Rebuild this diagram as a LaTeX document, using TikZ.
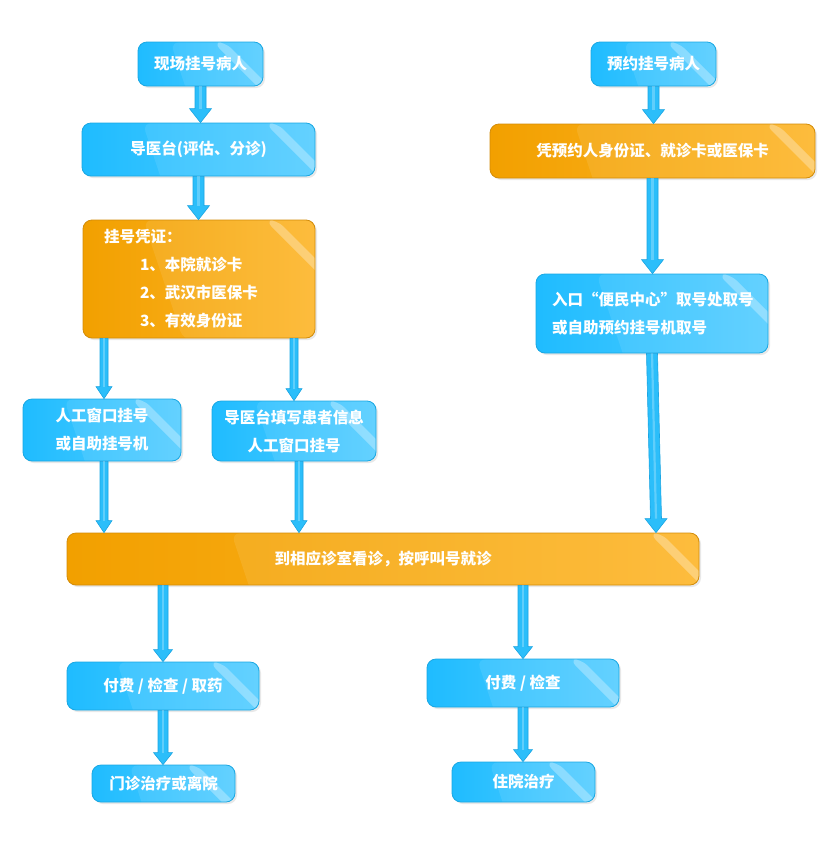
\documentclass[tikz,border=0pt]{standalone}
\usepackage{fontspec}
\setmainfont{Noto Sans CJK SC}
\usepackage{tikz}
\usetikzlibrary{shadows,calc}
\usepackage{xcolor}

\definecolor{blueL}{HTML}{1FBCFF}
\definecolor{blueR}{HTML}{55CDFF}
\definecolor{blueEdge}{HTML}{19A7E2}
\definecolor{orangeL}{HTML}{F2A000}
\definecolor{orangeR}{HTML}{FDB62A}
\definecolor{orangeEdge}{HTML}{D38C08}
\definecolor{arrowBlue}{HTML}{2BBEFA}
\definecolor{arrowEdge}{HTML}{1AA6E4}

% block arrow: half shaft, half head, head length, from, to
\newcommand\flowarrow[5]{%
  \path let \p1=(#4), \p2=(#5) in
    coordinate (fa1) at (\x1,\y1) coordinate (fa2) at (\x2,\y2);
  \fill[black,opacity=0.12,xshift=2.5pt]
    ([xshift=-#1]fa1) -- ([xshift=-#1,yshift=#3]fa2) -- ([xshift=-#2,yshift=#3]fa2) -- (fa2)
    -- ([xshift=#2,yshift=#3]fa2) -- ([xshift=#1,yshift=#3]fa2) -- ([xshift=#1]fa1) -- cycle;
  \filldraw[fill=arrowBlue, draw=arrowEdge, line width=0.6pt, line join=miter]
    ([xshift=-#1]fa1) -- ([xshift=-#1,yshift=#3]fa2) -- ([xshift=-#2,yshift=#3]fa2) -- (fa2)
    -- ([xshift=#2,yshift=#3]fa2) -- ([xshift=#1,yshift=#3]fa2) -- ([xshift=#1]fa1) -- cycle;
  \fill[white,opacity=0.25]
    ([xshift=-#1*0.2]fa1) -- ([xshift=-#1*0.2,yshift=#3]fa2) -- ([xshift=#1*0.2,yshift=#3]fa2) -- ([xshift=#1*0.2]fa1) -- cycle;
}
\newcommand\bigarrow[2]{\flowarrow{5.5pt}{11pt}{14pt}{#1}{#2}}
\newcommand\midarrow[2]{\flowarrow{5pt}{9.5pt}{12pt}{#1}{#2}}
\newcommand\smallarrow[2]{\flowarrow{4pt}{8pt}{12pt}{#1}{#2}}

\tikzset{
  gloss/.style={path picture={
    \coordinate (ppne) at (path picture bounding box.north east);
    \coordinate (ppnw) at (path picture bounding box.north west);
    \fill[white,opacity=0.09] ($(ppnw)!0.26!(ppne)$) -- ++(40pt,-120pt) -- ++(2000pt,0) -- (ppne) -- cycle;
    \fill[white,opacity=0.30] ([xshift=-50pt]ppne) -- ++(12pt,0) -- ++(120pt,-120pt) -- ++(-12pt,0) -- cycle;
  }},
  flowbox/.style={rounded corners=9pt, line width=0.8pt, text=white,
    font=\bfseries\fontsize{15.5}{28}\selectfont, inner sep=0pt,
    drop shadow={shadow xshift=2pt, shadow yshift=-2pt, opacity=0.18}, gloss},
  bluebox/.style={flowbox, draw=blueEdge, left color=blueL, right color=blueR},
  orangebox/.style={flowbox, draw=orangeEdge, left color=orangeL, right color=orangeR},
}

\begin{document}
\begin{tikzpicture}[x=1pt,y=-1pt]
\useasboundingbox (0,0) rectangle (835,852);

% left column: on-site registration
\node[bluebox, minimum width=125pt, minimum height=44pt] (onsite) at (200.5,64) {现场挂号病人};
\node[bluebox, minimum width=233pt, minimum height=53pt] (guide) at (198.5,149.5) {导医台(评估、分诊)};
\node[orangebox, minimum width=232pt, minimum height=118pt, text width=190pt, align=left] (proof) at (199,279)
  {挂号凭证：\\\hspace*{36pt}1、本院就诊卡\\\hspace*{36pt}2、武汉市医保卡\\\hspace*{36pt}3、有效身份证};
\node[bluebox, minimum width=158pt, minimum height=62pt, align=center] (window) at (102,430) {人工窗口挂号\\或自助挂号机};
\node[bluebox, minimum width=164pt, minimum height=60pt, align=center] (fillin) at (294,431) {导医台填写患者信息\\人工窗口挂号};

% right column: appointment
\node[bluebox, minimum width=125pt, minimum height=44pt] (booked) at (653.5,64) {预约挂号病人};
\node[orangebox, minimum width=325pt, minimum height=54pt] (idcard) at (652.5,151) {凭预约人身份证、就诊卡或医保卡};
\node[bluebox, minimum width=232pt, minimum height=79pt, text width=200pt, align=left] (pickup) at (652,313.5)
  {入口“便民中心”取号处取号\\或自助预约挂号机取号};

% common part
\node[orangebox, minimum width=632pt, minimum height=52pt] (visit) at (383,559) {到相应诊室看诊，按呼叫号就诊};
\node[bluebox, minimum width=192pt, minimum height=48pt] (payout) at (163,686) {付费 / 检查 / 取药};
\node[bluebox, minimum width=192pt, minimum height=48pt] (payin) at (523,683) {付费 / 检查};
\node[bluebox, minimum width=143pt, minimum height=37pt] (leave) at (163.5,783.5) {门诊治疗或离院};
\node[bluebox, minimum width=143pt, minimum height=40pt] (ward) at (523.5,782) {住院治疗};

\coordinate (windowtop) at ([xshift=2pt]window.north);
\coordinate (windowbot) at ([xshift=2pt]window.south);
\coordinate (fillinbot) at ([xshift=5pt]fillin.south);
\coordinate (visitin) at ([xshift=4pt]pickup.south |- visit.north);

\bigarrow{onsite.south}{onsite.south |- guide.north}
\bigarrow{guide.south}{guide.south |- proof.north}
\bigarrow{booked.south}{booked.south |- idcard.north}
\bigarrow{idcard.south}{idcard.south |- pickup.north}
\bigarrow{pickup.south}{visitin}

\smallarrow{proof.south -| windowtop}{windowtop}
\smallarrow{proof.south -| fillin.north}{fillin.north}
\smallarrow{windowbot}{windowbot |- visit.north}
\smallarrow{fillinbot}{fillinbot |- visit.north}

\midarrow{visit.south -| payout.north}{payout.north}
\midarrow{visit.south -| payin.north}{payin.north}
\midarrow{payout.south}{payout.south |- leave.north}
\midarrow{payin.south}{payin.south |- ward.north}
\end{tikzpicture}
\end{document}
